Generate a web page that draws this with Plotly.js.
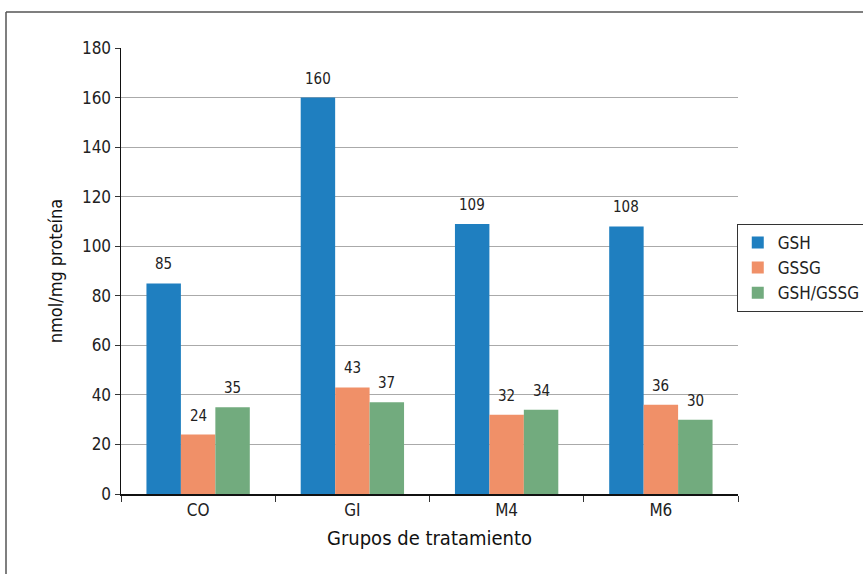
<!DOCTYPE html>
<html><head><meta charset="utf-8">
<script src="https://cdn.plot.ly/plotly-3.0.1.min.js"></script>
<style>html,body{margin:0;padding:0;background:#fff;}#chart{width:863px;height:574px;}</style>
</head><body><div id="chart"></div>
<script>
const categories = ['CO', 'GI', 'M4', 'M6'];
const gsh = [85, 160, 109, 108];
const gssg = [24, 43, 32, 36];
const ratio = [35, 37, 34, 30];
const seriesNames = ['GSH', 'GSSG', 'GSH/GSSG'];
const colors = ['#1f7fc0', '#f09068', '#72ab7e'];
const FONT = '"DejaVu Sans Condensed", "Liberation Sans Narrow", sans-serif';

const series = [gsh, gssg, ratio];
const traces = series.map((vals, i) => ({
  type: 'bar', x: categories, y: vals, name: seriesNames[i],
  marker: {color: colors[i]}
}));

const barPx = 617 / categories.length * (1 - 0.33) / series.length;
const annotations = [];
series.forEach((vals, i) => {
  vals.forEach((v, j) => {
    annotations.push({x: categories[j], y: v, xref: 'x', yref: 'y', text: String(v),
      showarrow: false, yanchor: 'bottom', xshift: (i - 1) * barPx, yshift: 8,
      font: {family: FONT, size: 15, color: '#222'}});
  });
});

const layout = {
  width: 863, height: 574,
  margin: {l: 121, r: 125, t: 48, b: 80, autoexpand: false},
  paper_bgcolor: '#fff', plot_bgcolor: '#fff',
  font: {family: FONT, color: '#222'},
  barmode: 'group', bargap: 0.33, bargroupgap: 0,
  showlegend: true,
  legend: {x: 0.998, xanchor: 'left', y: 0.507, yanchor: 'middle',
           bordercolor: '#333', borderwidth: 1, font: {family: FONT, size: 17, color: '#222'},
           itemwidth: 30, tracegroupgap: 0},
  annotations: annotations,
  xaxis: {type: 'category', showline: true, linecolor: '#111', linewidth: 2,
          ticks: 'outside', tickson: 'boundaries', ticklen: 6, tickcolor: '#333',
          tickfont: {family: FONT, size: 17, color: '#222'},
          title: {text: 'Grupos de tratamiento', font: {family: FONT, size: 20, color: '#111'}, standoff: 12}},
  yaxis: {range: [0, 180], dtick: 20, showline: true, linecolor: '#111', linewidth: 1.5,
          ticks: 'outside', ticklen: 5, tickcolor: '#333',
          showgrid: true, gridcolor: '#aaaaaa', gridwidth: 1, zeroline: false,
          tickfont: {family: FONT, size: 17, color: '#222'},
          title: {text: 'nmol/mg proteína', font: {family: FONT, size: 18, color: '#111'}, standoff: 14}},
  shapes: [
    {type: 'line', xref: 'paper', yref: 'paper', x0: (6-121)/617, x1: (900-121)/617, y0: (494-12)/446, y1: (494-12)/446, line: {color: '#555', width: 1.5}},
    {type: 'line', xref: 'paper', yref: 'paper', x0: (6-121)/617, x1: (6-121)/617, y0: (494-12)/446, y1: (494-600)/446, line: {color: '#555', width: 1.5}}
  ]
};
Plotly.newPlot('chart', traces, layout, {displayModeBar: false, staticPlot: true});
</script></body></html>
